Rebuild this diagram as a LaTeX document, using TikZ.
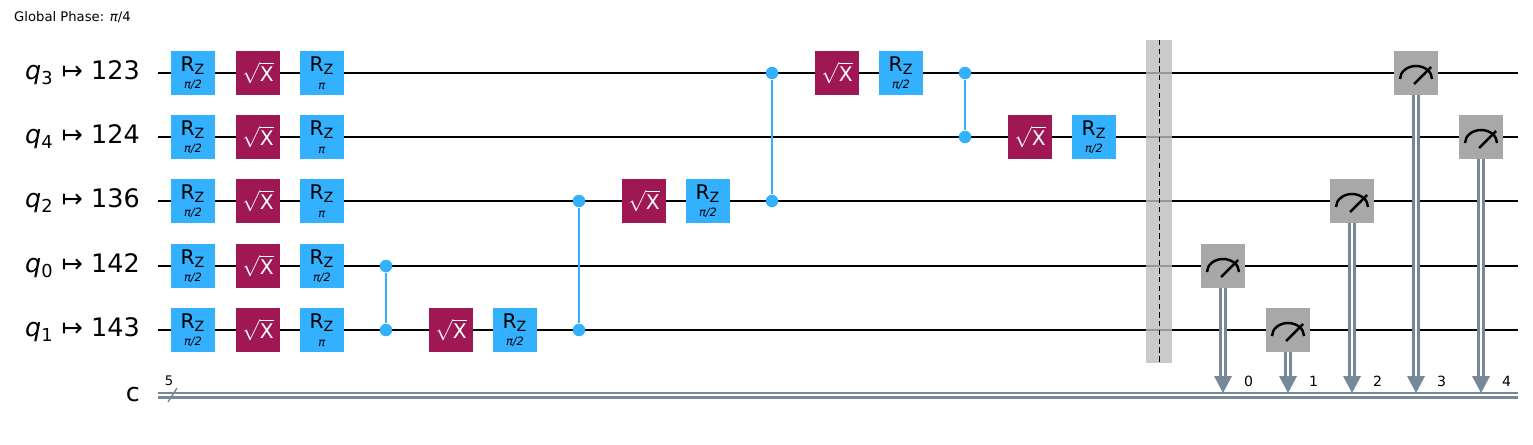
\documentclass[tikz,border=0pt]{standalone}
\usepackage{fontspec}
\setmainfont{DejaVu Sans}
\usepackage{tikz}
\usetikzlibrary{arrows.meta, positioning, calc}
\definecolor{rzblue}{HTML}{33B1FF}
\definecolor{sxred}{HTML}{9F1853}
\definecolor{measgray}{HTML}{A8A8A8}
\definecolor{cgray}{HTML}{778899}
\definecolor{bargray}{HTML}{BDBDBD}
\tikzstyle{gate} = [rectangle, minimum width=0.88cm, minimum height=0.88cm, inner sep=0pt, align=center]
\tikzstyle{rz} = [gate, fill=rzblue, font=\fontsize{11.5}{11}\selectfont]
\tikzstyle{sx} = [gate, fill=sxred, text=white, font=\fontsize{11.5}{11}\selectfont]
\tikzstyle{meas} = [gate, fill=measgray, path picture={
  \draw[line width=1.4pt] ([shift={(-16,6)}]path picture bounding box.center) arc (180:360:16 and 13);
  \draw[line width=1.4pt] ([shift={(-2,11)}]path picture bounding box.center) -- ++(17,-17);}]
\tikzstyle{wire} = [line width=1.3pt]
\tikzstyle{cz} = [draw=rzblue, line width=1.3pt]
\tikzstyle{czdot} = [circle, fill=rzblue, minimum size=0.25cm, inner sep=0pt]
\tikzstyle{lbl} = [anchor=east, font=\fontsize{14.5}{14.5}\selectfont]
\newcommand{\rzg}[3]{\node (#1) [rz] at #2 {R\textsubscript{Z}\\[-1pt]{\fontsize{6.5}{6.5}\selectfont\textit{#3}}};}
\newcommand{\sxg}[2]{\node (#1) [sx] at #2 {$\sqrt{\textrm{X}}$};}
\newcommand{\measarrow}[2]{%
  \coordinate (#1b) at (#1.south |- cL);
  \draw[cgray, line width=0.15cm] (#1.south) -- ($(#1b)+(0,-18)$);
  \draw[white, line width=0.045cm] (#1.south) -- ($(#1b)+(0,-18)$);
  \fill[cgray] ($(#1b)+(-9,-19)$) -- ($(#1b)+(9,-19)$) -- ($(#1b)+(0,-2)$) -- cycle;
  \node[font=\fontsize{8}{8}\selectfont, anchor=west] at ($(#1b)+(15,-14)$) {#2};}

\begin{document}
\begin{tikzpicture}[x=0.02cm, y=-0.02cm]
\useasboundingbox (0,0) rectangle (1533,444);

\node[anchor=west, font=\fontsize{7.5}{7.5}\selectfont] (phase) at (8,17) {Global Phase: \textit{π}/4};

% wires
\foreach \q/\p/\y in {3/123/73, 4/124/137, 2/136/201, 0/142/266, 1/143/330} {
  \node (l\q) [lbl] at (146,\y) {\textit{q}\textsubscript{\q} ↦ \p};
  \coordinate (w\q a) at (158,\y);
  \coordinate (w\q b) at (1518,\y);
  \draw[wire] (w\q a) -- (w\q b);
}
\coordinate (cL) at (158,395);
\coordinate (cR) at (1518,395);
\draw[cgray, line width=0.14cm] (cL) -- (cR);
\draw[white, line width=0.045cm] (cL) -- (cR);
\node (clbl) [lbl] at (146,395) {c};
\draw[cgray, line width=0.8pt] (168,402) -- (177,388);
\node[font=\fontsize{7.5}{7.5}\selectfont] (csize) at (169,381) {5};

% first layer
\foreach \q/\y/\a in {3/73/π, 4/137/π, 2/201/π, 0/266/{π/2}, 1/330/π} {
  \rzg{ra\q}{(193,\y)}{π/2}
  \sxg{sa\q}{(258,\y)}
  \rzg{rb\q}{(322,\y)}{\a}
}

% entangling part
\node (z01a) [czdot] at (386,266) {};
\node (z01b) [czdot] at (386,330) {};
\draw[cz] (z01a) -- (z01b);
\sxg{s1}{(451,330)}
\rzg{r1}{(515,330)}{π/2}
\node (z21a) [czdot] at (579,201) {};
\node (z21b) [czdot] at (579,330) {};
\draw[cz] (z21a) -- (z21b);
\sxg{s2}{(644,201)}
\rzg{r2}{(708,201)}{π/2}
\node (z32a) [czdot] at (772,73) {};
\node (z32b) [czdot] at (772,201) {};
\draw[cz] (z32a) -- (z32b);
\sxg{s3}{(837,73)}
\rzg{r3}{(901,73)}{π/2}
\node (z34a) [czdot] at (965,73) {};
\node (z34b) [czdot] at (965,137) {};
\draw[cz] (z34a) -- (z34b);
\sxg{s4}{(1030,137)}
\rzg{r4}{(1094,137)}{π/2}

% barrier
\fill[bargray, opacity=0.8] (1146,40) rectangle (1172,363);
\draw[dash pattern=on 3pt off 2pt, line width=0.5pt] (1159,40) -- (1159,363);

% measurements
\node (m0) [meas] at (1223,266) {};
\node (m1) [meas] at (1288,330) {};
\node (m2) [meas] at (1352,201) {};
\node (m3) [meas] at (1416,73) {};
\node (m4) [meas] at (1481,137) {};
\measarrow{m0}{0}
\measarrow{m1}{1}
\measarrow{m2}{2}
\measarrow{m3}{3}
\measarrow{m4}{4}

\end{tikzpicture}
\end{document}
